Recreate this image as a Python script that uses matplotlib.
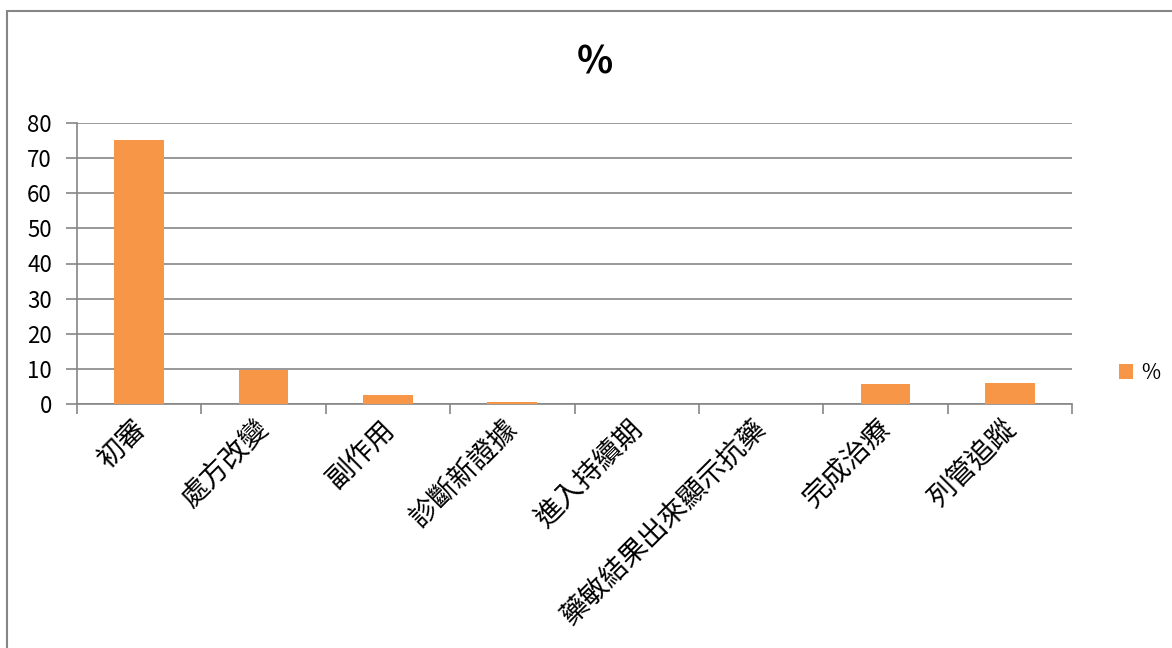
import matplotlib.pyplot as plt
from matplotlib.patches import Rectangle
from matplotlib.transforms import ScaledTranslation
import numpy as np

categories = ['初審', '處方改變', '副作用', '診斷新證據', '進入持續期',
              '藥敏結果出來顯示抗藥', '完成治療', '列管追蹤']
values = [75.1, 9.7, 2.6, 0.6, 0, 0, 5.7, 5.9]

plt.rcParams['font.family'] = ['Noto Sans CJK TC', 'DejaVu Sans']

bar_color = '#F79646'
grey = '#868686'

fig = plt.figure(figsize=(11.72, 6.48), dpi=100)
ax = fig.add_axes([77/1172, 1 - 404/648, (1072 - 77)/1172, (404 - 123)/648])

# chart frame
fig.patches.append(Rectangle((7/1172, -0.1), 1.2, 1 - 11/648 + 0.1,
                             transform=fig.transFigure, fill=False,
                             edgecolor=grey, linewidth=1.5))

x = np.arange(len(categories))
ax.bar(x, values, width=0.4, color=bar_color, label='%', zorder=3)

ax.set_xlim(-0.5, len(categories) - 0.5)
ax.set_ylim(0, 80)
ax.set_yticks(range(0, 81, 10))
ax.yaxis.grid(True, color=grey, linewidth=1.2, zorder=0)

ax.set_xticks(x)
ax.set_xticklabels(categories, rotation=45, ha='right', rotation_mode='anchor',
                   fontsize=20, fontweight='light')
ax.set_xticks(np.arange(-0.5, len(categories)), minor=True)
ax.tick_params(axis='x', which='major', length=0, pad=7)
ax.tick_params(axis='x', which='minor', length=7, color=grey, width=1.2)
ax.tick_params(axis='y', length=8, color=grey, width=1.2, labelsize=16, pad=10)

# nudge the slanted labels a little to the left
shift = ScaledTranslation(-9/100, 0, fig.dpi_scale_trans)
for lbl in ax.get_xticklabels():
    lbl.set_transform(lbl.get_transform() + shift)

for side in ['top', 'right']:
    ax.spines[side].set_visible(False)
for side in ['left', 'bottom']:
    ax.spines[side].set_color(grey)
    ax.spines[side].set_linewidth(1.2)

fig.text(595/1172, 1 - 62/648, '%', ha='center', va='center',
         fontsize=27, fontweight='bold')

ax.legend(loc='center left', bbox_to_anchor=(1100/1172, 1 - 373/648),
          bbox_transform=fig.transFigure, frameon=False, fontsize=15,
          handlelength=0.7, handleheight=0.7, handletextpad=0.4)

plt.savefig('out.png', dpi=100)
